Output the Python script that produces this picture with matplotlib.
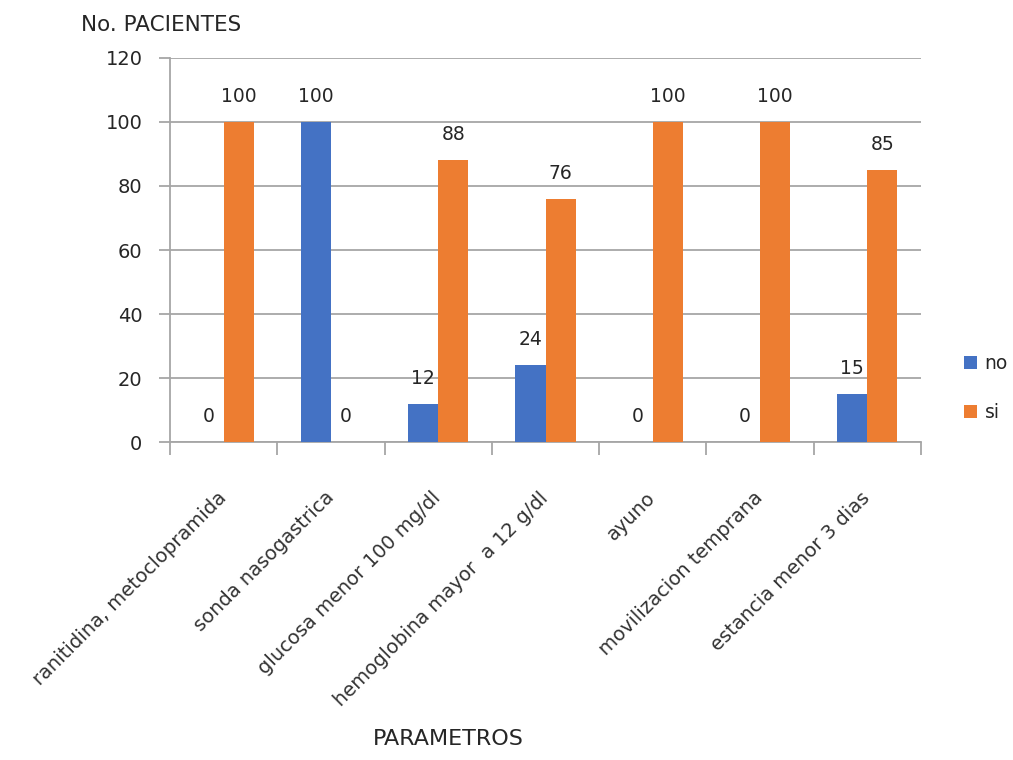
import numpy as np
import matplotlib
matplotlib.use("Agg")
import matplotlib.pyplot as plt
import matplotlib.transforms as mtransforms

plt.rcParams["font.family"] = ["DejaVu Sans"]

# datos del grafico
parametros = ["ranitidina, metoclopramida", "sonda nasogastrica",
              "glucosa menor 100 mg/dl", "hemoglobina mayor  a 12 g/dl",
              "ayuno", "movilizacion temprana", "estancia menor 3 dias"]
no_vals = [0, 100, 12, 24, 0, 0, 15]
si_vals = [100, 0, 88, 76, 100, 100, 85]

azul = "#4472C4"
naranja = "#ED7D31"
gris = "#A6A6A6"
texto = "#262626"

fig = plt.figure(figsize=(10.13, 7.6), dpi=100)
ax = fig.add_axes([0.168, 0.418, 0.741, 0.506])

x = np.arange(len(parametros))
w = 0.28
b_no = ax.bar(x - w / 2, no_vals, w, color=azul, label="no", zorder=3)
b_si = ax.bar(x + w / 2, si_vals, w, color=naranja, label="si", zorder=3)

# etiquetas de valor encima de cada barra
for bars in (b_no, b_si):
    for bar in bars:
        h = bar.get_height()
        ax.text(bar.get_x() + bar.get_width() / 2, h + 5, f"{h:.0f}",
                ha="center", va="bottom", fontsize=13.5, color=texto)

ax.set_xlim(-0.5, len(parametros) - 0.5)
ax.set_ylim(0, 120)
ax.set_yticks(np.arange(0, 121, 20))
ax.yaxis.grid(True, color=gris, linewidth=1.3, zorder=0)
ax.tick_params(axis="y", length=8, color=gris, width=1.3, labelsize=14,
               pad=12, labelcolor=texto)

# marcas entre categorias
ax.set_xticks(x)
ax.set_xticks(np.arange(-0.5, len(parametros), 1), minor=True)
ax.tick_params(axis="x", which="major", length=0, pad=33)
ax.tick_params(axis="x", which="minor", length=9, color=gris, width=1.3)
ax.set_xticklabels(parametros, rotation=45, ha="right",
                   rotation_mode="anchor", fontsize=14, color="#333333")
desplaza = mtransforms.ScaledTranslation(-5 / 72, 0, fig.dpi_scale_trans)
for lab in ax.get_xticklabels():
    lab.set_transform(lab.get_transform() + desplaza)

for s in ["top", "right"]:
    ax.spines[s].set_visible(False)
for s in ["left", "bottom"]:
    ax.spines[s].set_color(gris)
    ax.spines[s].set_linewidth(1.3)

fig.text(0.08, 0.967, "No. PACIENTES", fontsize=15.5, va="center", ha="left",
         color=texto)
fig.text(0.443, 0.015, "PARAMETROS", fontsize=16, va="bottom", ha="center",
         color=texto)

ax.legend(loc="center left", bbox_to_anchor=(1.035, 0.14), frameon=False,
          fontsize=13.5, handlelength=0.7, handleheight=0.7, labelspacing=1.6,
          handletextpad=0.4, labelcolor=texto)

fig.savefig("out.png", dpi=100)
